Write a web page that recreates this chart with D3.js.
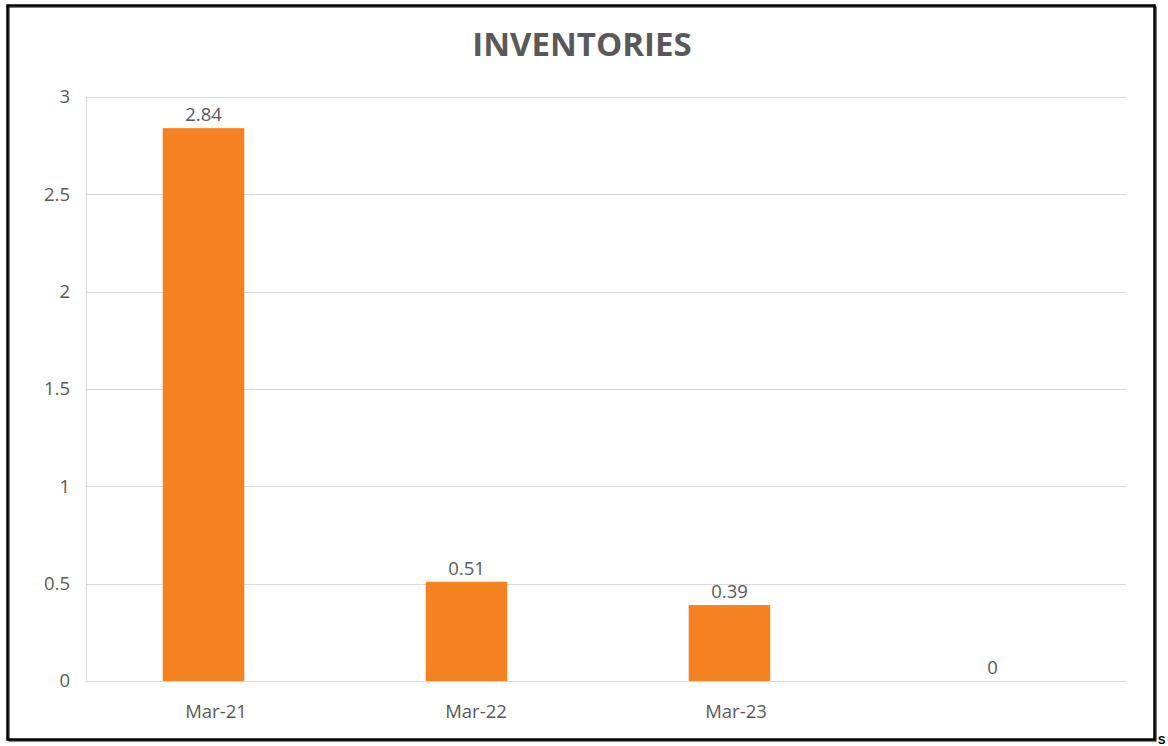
<!DOCTYPE html>
<html><head><meta charset="utf-8">
<script src="https://cdn.jsdelivr.net/npm/d3@7"></script>
<style>body{margin:0;background:#fff}svg{display:block}</style>
</head><body>
<svg id="c" width="1168" height="746"></svg>
<script>
const categories = ["Mar-21", "Mar-22", "Mar-23", ""];
const values = [2.84, 0.51, 0.39, 0];
const valueLabels = ["2.84", "0.51", "0.39", "0"];
const yTicks = [0, 0.5, 1, 1.5, 2, 2.5, 3];
const chartTitle = "INVENTORIES";

(function () {
const svg = d3.select("#c");
const pL = 86, pR = 1126, pT = 97, pB = 681;
const font = "'Open Sans', sans-serif";
const grey = "#595959";

// chart border
svg.append("rect").attr("x", 9).attr("y", 7).attr("width", 1147).attr("height", 734)
  .attr("fill", "none").attr("stroke", "#000").attr("stroke-width", 1);
svg.append("rect").attr("x", 7.5).attr("y", 5.5).attr("width", 1147).attr("height", 734)
  .attr("fill", "none").attr("stroke", "#000").attr("stroke-width", 2.5);

const x = d3.scaleBand().domain(categories).range([pL, pR]);
const xBar = d3.scaleBand().domain(categories).range([pL - 14, pR - 2]).paddingInner(0.69).paddingOuter(0.345);
const y = d3.scaleLinear().domain([0, 3]).range([pB, pT]);

// grid
svg.append("g").selectAll("line").data(yTicks).join("line")
  .attr("x1", pL).attr("x2", pR)
  .attr("y1", d => Math.round(y(d)) + 0.5).attr("y2", d => Math.round(y(d)) + 0.5)
  .attr("stroke", "#d9d9d9").attr("stroke-width", 1);
svg.append("line").attr("x1", pL + 0.5).attr("x2", pL + 0.5).attr("y1", pT).attr("y2", pB + 0.5)
  .attr("stroke", "#d9d9d9");

// y axis labels
const yAxis = d3.axisLeft(y).tickValues(yTicks).tickSize(0).tickPadding(16).tickFormat(d3.format("~g"));
const ya = svg.append("g").attr("transform", `translate(${pL},0)`).call(yAxis);
ya.select(".domain").remove();
ya.selectAll("text").attr("font-family", font).attr("font-size", 18.5).attr("fill", grey);

// x axis labels
const xAxis = d3.axisBottom(x).tickSize(0).tickPadding(24);
const xa = svg.append("g").attr("transform", `translate(0,${pB})`).call(xAxis);
xa.select(".domain").remove();
xa.selectAll("text").attr("font-family", font).attr("font-size", 18.5).attr("fill", grey);

// bars
svg.append("g").selectAll("rect").data(values).join("rect")
  .attr("x", (d, i) => xBar(categories[i]))
  .attr("width", xBar.bandwidth())
  .attr("y", d => y(d))
  .attr("height", d => y(0) - y(d))
  .attr("fill", "#f58220");

// value labels
svg.append("g").selectAll("text").data(values).join("text")
  .attr("x", (d, i) => xBar(categories[i]) + xBar.bandwidth() / 2)
  .attr("y", d => y(d) - 7)
  .attr("text-anchor", "middle")
  .attr("font-family", font).attr("font-size", 18.5).attr("fill", grey)
  .text((d, i) => valueLabels[i]);

// title
svg.append("text").attr("x", 582).attr("y", 56).attr("text-anchor", "middle")
  .attr("font-family", font).attr("font-weight", "bold").attr("font-size", 33)
  .attr("fill", grey).text(chartTitle);

// stray character at bottom-right (cut off in the source image)
svg.append("text").attr("x", 1158).attr("y", 744).attr("font-family", "'Liberation Sans', sans-serif")
  .attr("font-weight", "bold").attr("font-size", 11).attr("fill", "#000").text("S");
})();
</script>
</body></html>
